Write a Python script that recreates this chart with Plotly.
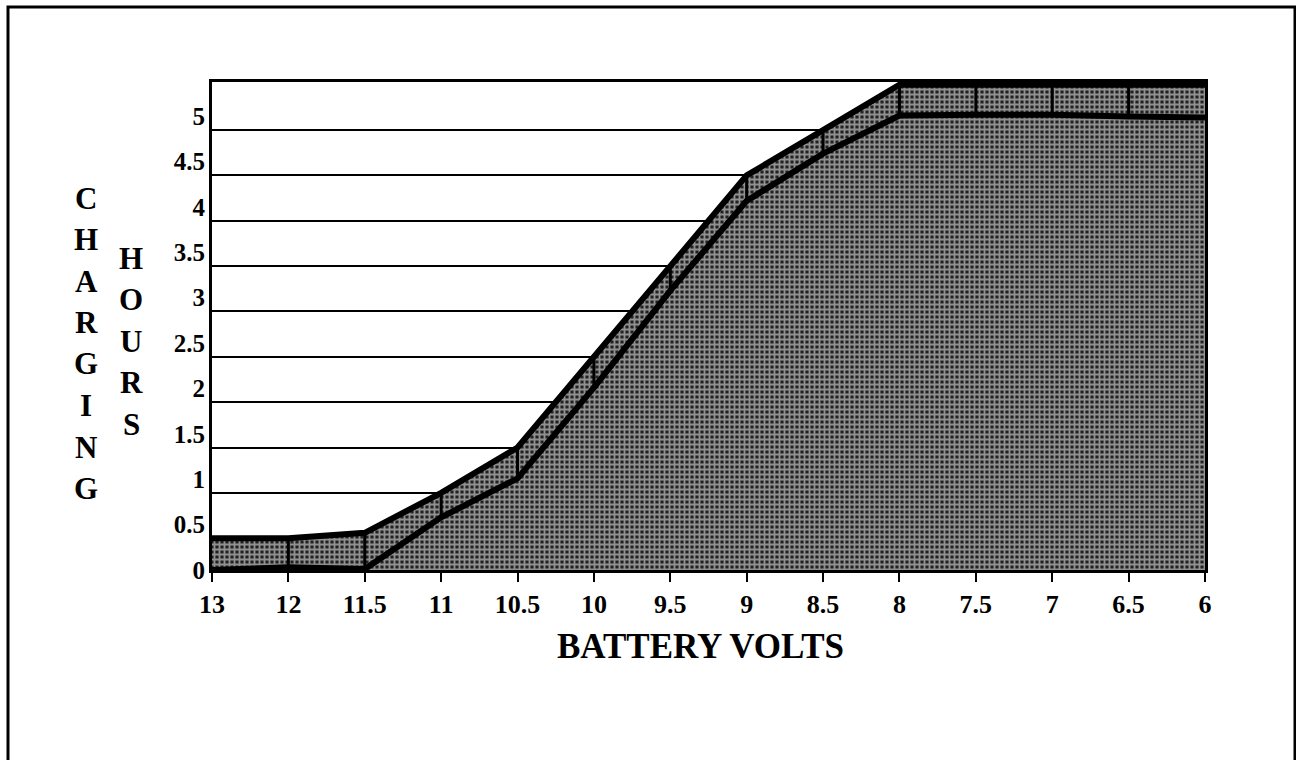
import plotly.graph_objects as go

# ---- data ----
volts = ["13", "12", "11.5", "11", "10.5", "10", "9.5", "9", "8.5", "8", "7.5", "7", "6.5", "6"]
hours_upper = [0.5, 0.5, 0.56, 1.0, 1.5, 2.5, 3.5, 4.5, 5.0, 5.5, 5.5, 5.5, 5.5, 5.5]
hours_lower = [0.15, 0.18, 0.16, 0.73, 1.16, 2.16, 3.23, 4.22, 4.74, 5.16, 5.17, 5.17, 5.15, 5.14]
grid_hours = [0.5, 1, 1.5, 2, 2.5, 3, 3.5, 4, 4.5, 5]
label_hours = [0, 0.5, 1, 1.5, 2, 2.5, 3, 3.5, 4, 4.5, 5]
label_text = ["0", "0.5", "1", "1.5", "2", "2.5", "3", "3.5", "4", "4.5", "5"]

W, H = 1296, 760
L, R, T, B = 212, 91, 82, 190
PW, PH = W - L - R, H - T - B

def px2paper(px, py):
    return (px - L) / PW, (H - B - py) / PH

SERIF = "Liberation Serif"
fig = go.Figure()

pattern = dict(shape="+", fgcolor="white", bgcolor="#222222", size=5, solidity=0.6)

fig.add_trace(go.Scatter(
    x=volts, y=hours_upper, mode="lines", fill="tozeroy",
    fillpattern=pattern, fillcolor="#222222",
    line=dict(color="black", width=6), hoverinfo="skip", showlegend=False))

fig.add_trace(go.Scatter(
    x=volts, y=hours_lower, mode="lines",
    line=dict(color="black", width=6), hoverinfo="skip", showlegend=False))

# vertical separators between curves
vx, vy = [], []
for v, lo, up in zip(volts[1:-1], hours_lower[1:-1], hours_upper[1:-1]):
    vx += [v, v, None]
    vy += [lo, up, None]
fig.add_trace(go.Scatter(x=vx, y=vy, mode="lines", line=dict(color="black", width=3),
                         hoverinfo="skip", showlegend=False))

# dummy trace for label axis
fig.add_trace(go.Scatter(x=[volts[0]] * len(label_hours), y=label_hours, yaxis="y2",
                         mode="markers", marker=dict(opacity=0), hoverinfo="skip",
                         showlegend=False))

fig.update_layout(
    width=W, height=H,
    margin=dict(l=L, r=R, t=T, b=B),
    paper_bgcolor="white", plot_bgcolor="white",
    xaxis=dict(type="category", categoryarray=volts, categoryorder="array",
               range=[0, len(volts) - 1],
               showline=True, linecolor="black", linewidth=3, mirror=True,
               ticks="outside", ticklen=9, tickwidth=2, tickcolor="black",
               showgrid=False, zeroline=False,
               tickfont=dict(family=SERIF, size=26, color="black", weight="bold")),
    yaxis=dict(range=[0.15, 5.53], tickvals=grid_hours, showticklabels=False,
               showgrid=True, gridcolor="black", gridwidth=2,
               showline=True, linecolor="black", linewidth=3, mirror=True,
               ticks="", zeroline=False),
    yaxis2=dict(range=[0, 5.377], overlaying="y", side="left",
                tickvals=label_hours, ticktext=label_text,
                showgrid=False, zeroline=False, ticks="", showline=False,
                ticklabelstandoff=6,
                tickfont=dict(family=SERIF, size=25, color="black", weight="bold")),
)

# axis titles as stacked letters
annotations = []
for word, px, py0 in [("CHARGING", 86, 198), ("HOURS", 131, 258)]:
    for i, ch in enumerate(word):
        x, y = px2paper(px, py0 + i * 41.5)
        annotations.append(dict(text=ch, x=x, y=y, xref="paper", yref="paper",
                                showarrow=False, xanchor="center", yanchor="middle",
                                font=dict(family=SERIF, size=31, color="black", weight="bold")))
bx, by = px2paper(700, 646)
annotations.append(dict(text="BATTERY VOLTS", x=bx, y=by, xref="paper", yref="paper",
                        showarrow=False, xanchor="center", yanchor="middle",
                        font=dict(family=SERIF, size=35, color="black", weight="bold")))
fig.update_layout(annotations=annotations)

# outer frame
x0, y0 = px2paper(8, 7)
x1, y1 = px2paper(1295, 790)
fig.add_shape(type="rect", xref="paper", yref="paper", x0=x0, y0=y1, x1=x1, y1=y0,
              line=dict(color="black", width=3), layer="below")

fig.write_html("out.html", config={"displayModeBar": False},
               post_script="document.body.style.margin='0';document.body.style.overflow='hidden';")
